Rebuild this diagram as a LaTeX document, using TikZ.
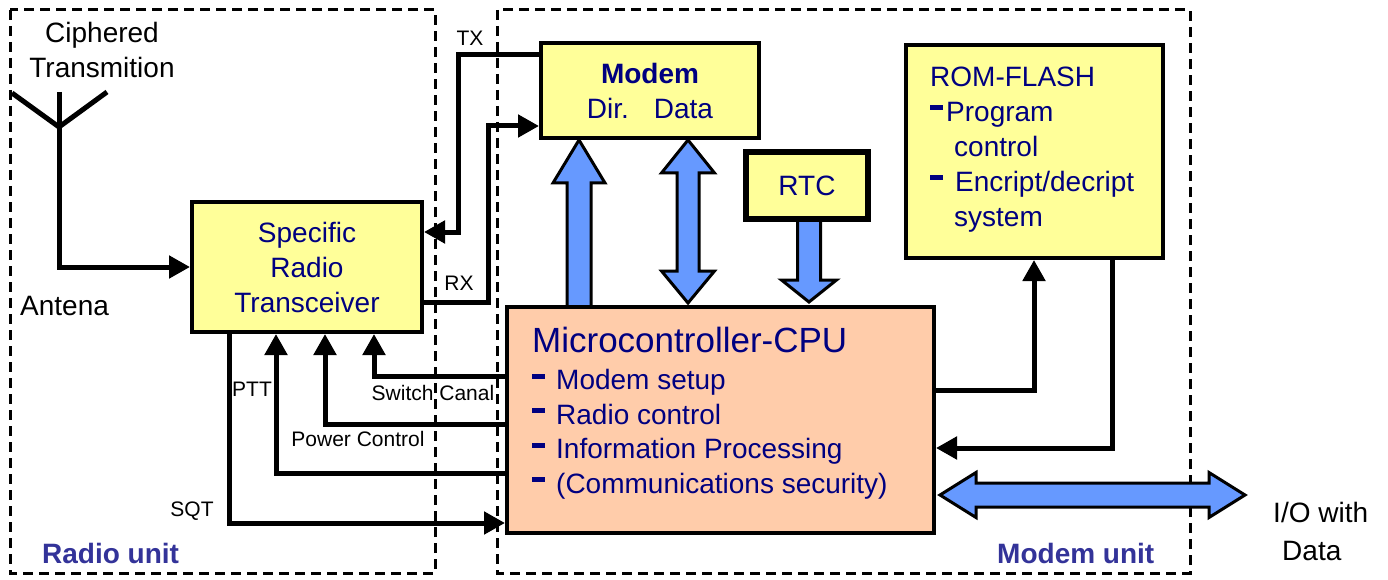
\documentclass[tikz,border=0pt]{standalone}
\usepackage{fontspec}
\setmainfont{Liberation Sans}
\usetikzlibrary{arrows.meta}

\definecolor{boxyellow}{HTML}{FFFF99}
\definecolor{cpupeach}{HTML}{FFCCAA}
\definecolor{busblue}{HTML}{6699FF}
\definecolor{textnavy}{HTML}{000080}
\definecolor{unitblue}{HTML}{333399}

\newcommand\fs[2]{\fontsize{#1}{#2}\selectfont}
\newcommand\dashbar{\rule[11pt]{13pt}{5pt}}

\begin{document}
\begin{tikzpicture}[x=1pt,y=-1pt,
  unitframe/.style={draw, dash pattern=on 10pt off 6pt, line width=3pt},
  block/.style={draw, line width=4pt, fill=boxyellow, inner sep=0pt,
                text=textnavy, align=center, font=\fs{28}{35}},
  sig/.style={line width=5pt, -{Triangle[length=21pt,width=22pt]}},
  wire/.style={line width=5pt},
  bus/.style={fill=busblue, draw=black, line width=3pt, line join=miter},
  lbl/.style={font=\fs{21}{25}, inner sep=0pt, anchor=base},
  txt/.style={font=\fs{28}{35}, inner sep=0pt},
  unitlbl/.style={font=\bfseries\fs{28}{32}, text=unitblue, inner sep=0pt, anchor=base west},
]
\useasboundingbox (0,0) rectangle (1388,580);

% unit frames
\draw[unitframe] (10,10) rectangle (435,573);
\draw[unitframe] (497,10) rectangle (1190,573);

% wide data buses
\filldraw[bus] (567,310) -- (567,183) -- (553,183) -- (579,140) -- (605,183) -- (591,183) -- (591,310) -- cycle;
\filldraw[bus] (688,140) -- (714.5,173) -- (699,173) -- (699,271) -- (714.5,271) -- (688,303)
               -- (661.5,271) -- (677,271) -- (677,173) -- (661.5,173) -- cycle;
\filldraw[bus] (797.5,216) -- (797.5,280) -- (781.5,280) -- (809,302) -- (836.5,280) -- (820.5,280) -- (820.5,216) -- cycle;
\filldraw[bus] (940,495) -- (976,472.5) -- (976,483) -- (1209,483) -- (1209,472.5) -- (1245,495)
               -- (1209,517.5) -- (1209,507) -- (976,507) -- (976,517.5) -- cycle;

% blocks
\node[block, minimum width=230pt, minimum height=130pt] (trx) at (307,267)
  {Specific\\Radio\\Transceiver};
\node[block, minimum width=218pt, minimum height=95pt] (modem) at (650,90.5)
  {{\bfseries Modem}\\Dir.\hspace{25pt}Data};
\node[block, line width=6pt, minimum width=122pt, minimum height=67pt] (rtc) at (807,185.5) {RTC};
\node[block, minimum width=257pt, minimum height=213pt] (rom) at (1034.5,151.5) {};
% multi-line text nodes are anchored at the baseline of their last line
\node[txt, text=textnavy, align=left, anchor=base west] (romtxt) at (930,226)
  {ROM-FLASH\\
   \dashbar\hspace{3pt}Program\\
   \hspace{24pt}control\\
   \dashbar\hspace{12pt}Encript/decript\\
   \hspace{24pt}system};
\node[block, fill=cpupeach, minimum width=427pt, minimum height=226pt] (cpu) at (720.5,420) {};
\node[txt, text=textnavy, align=left, anchor=base west, font=\fs{28}{34.5}] (cputxt) at (532,493)
  {{\fs{35}{38}Microcontroller-CPU}\\[2.5pt]
   \dashbar\hspace{11pt}Modem setup\\
   \dashbar\hspace{11pt}Radio control\\
   \dashbar\hspace{11pt}Information Processing\\
   \dashbar\hspace{11pt}(Communications security)};

% antenna
\coordinate (anttop) at (59,92);
\coordinate (antjoin) at (59,127);
\coordinate (antleft) at (12,93);
\coordinate (antright) at (107,92);
\draw[wire] (antleft) -- (antjoin) -- (antright);
\draw[sig] (anttop) |- (trx.west);

% radio <-> modem
\coordinate (tx1) at (458,55);
\coordinate (tx2) at (458,232);
\draw[sig] (tx1 -| modem.west) -- (tx1) -- (tx2) -- (tx2 -| trx.east);
\coordinate (rx1) at (488,302);
\coordinate (rx2) at (488,126);
\draw[sig] (rx1 -| trx.east) -- (rx1) -- (rx2) -- (rx2 -| modem.west);

% radio control lines
\coordinate (sqt) at (229,523);
\draw[sig] (sqt |- trx.south) -- (sqt) -- (sqt -| cpu.west);
\coordinate (ptt) at (276,473);
\draw[sig] (ptt -| cpu.west) -- (ptt) -- (ptt |- trx.south);
\coordinate (pwr) at (325,424);
\draw[sig] (pwr -| cpu.west) -- (pwr) -- (pwr |- trx.south);
\coordinate (swc) at (374,376);
\draw[sig] (swc -| cpu.west) -- (swc) -- (swc |- trx.south);

% memory lines
\coordinate (romout) at (1034,390);
\draw[sig] (romout -| cpu.east) -- (romout) -- (romout |- rom.south);
\coordinate (romin) at (1112,448);
\draw[sig] (romin |- rom.south) -- (romin) -- (romin -| cpu.east);

% labels
\node[txt, align=center, anchor=base] (cipher) at (102,78) {Ciphered\\Transmition};
\node[txt, anchor=base west] (antena) at (20,315) {Antena};
\node[lbl] (txl) at (470,45.5) {TX};
\node[lbl] (rxl) at (459,290.5) {RX};
\node[lbl] (pttl) at (252,396.5) {PTT};
\node[lbl] (swl) at (433,400.5) {Switch Canal};
\node[lbl] (pwrl) at (358,446.5) {Power Control};
\node[lbl] (sqtl) at (192,516.5) {SQT};
\node[txt, align=left, anchor=base west, font=\fs{28}{38}] (iol) at (1273,560) {I/O with\\\hspace{9pt}Data};
\node[unitlbl] (radiolbl) at (42,563) {Radio unit};
\node[unitlbl] (modemlbl) at (997,563) {Modem unit};
\end{tikzpicture}
\end{document}
